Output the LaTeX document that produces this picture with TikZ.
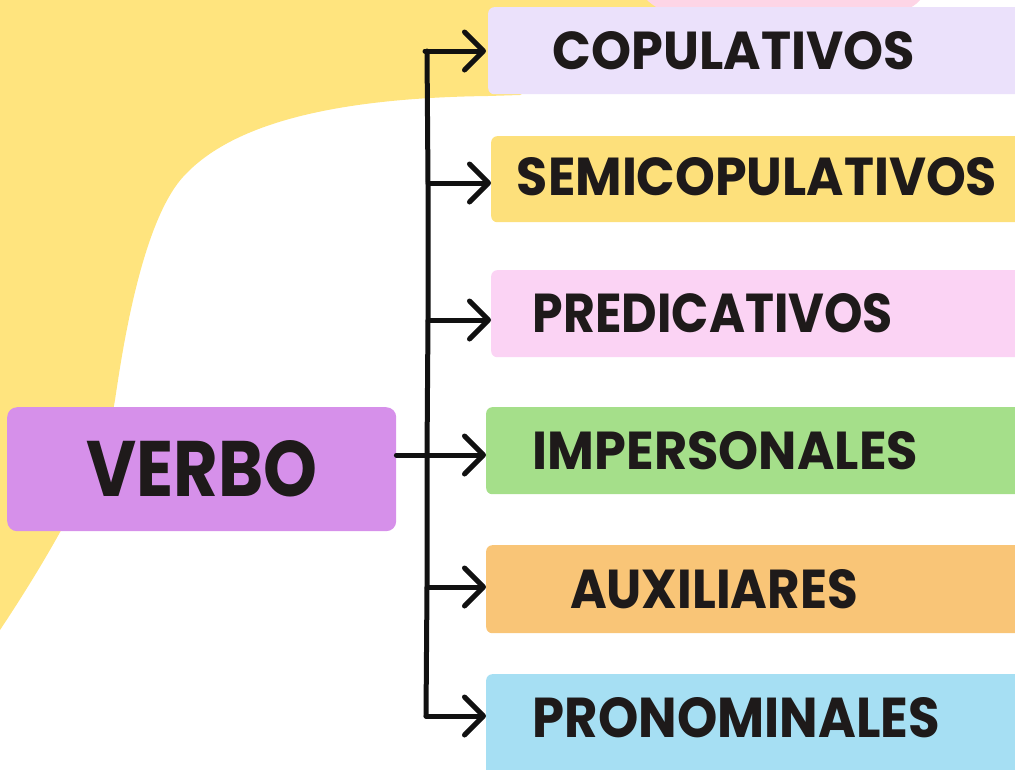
\documentclass[tikz,border=0pt]{standalone}
\usepackage{fontspec}
\setmainfont{Poppins}
\usetikzlibrary{arrows.meta}
\definecolor{bgyellow}{HTML}{FFE47E}
\definecolor{blobpink}{HTML}{FDD5E6}
\definecolor{lav}{HTML}{EBE1FB}
\definecolor{semiy}{HTML}{FDE07B}
\definecolor{predp}{HTML}{FBD3F4}
\definecolor{impg}{HTML}{A5DF8A}
\definecolor{auxo}{HTML}{F9C577}
\definecolor{pronb}{HTML}{A6DFF3}
\definecolor{verbop}{HTML}{D690EA}
\definecolor{ink}{HTML}{111111}
\definecolor{txt}{HTML}{1E1A1A}
\begin{document}
\begin{tikzpicture}[x=1pt,y=-1pt,
  box/.style={rectangle, rounded corners=6pt, inner sep=0pt, anchor=north west, minimum width=545pt},
  lbl/.style={inner sep=0pt, text=txt, font=\bfseries},
  conn/.style={draw=ink, line width=5pt, line cap=round, line join=round},
  arr/.style={conn, -{Straight Barb[length=19pt,width=38pt,line width=5pt,round]}}]
\useasboundingbox (0,0) rectangle (1015,769);
\clip (0,0) rectangle (1015,769);
% background blobs
\fill[bgyellow] (0,0) -- (655,0) -- (660,20) -- (520,95) -- (488,96)
  .. controls (330,98) and (230,125) .. (183,177)
  .. controls (140,224.6) and (121,360) .. (115,400)
  .. controls (107.5,450) and (60,540) .. (0,630)
  -- cycle;
\fill[blobpink] (645,-2) .. controls (655,8) and (662,12) .. (685,12) -- (885,12) .. controls (908,12) and (915,6) .. (922,-2) -- cycle;
% boxes
\node[box, fill=lav,   minimum height=87pt] (cop)  at (488,7) {};
\node[box, fill=semiy, minimum height=86pt] (semi) at (491,136) {};
\node[box, fill=predp, minimum height=87pt] (pred) at (491,270) {};
\node[box, fill=impg,  minimum height=87pt] (imp)  at (486,407) {};
\node[box, fill=auxo,  minimum height=88pt] (aux)  at (486,545) {};
\node[box, fill=pronb, minimum height=110pt] (pron) at (486,674) {};
\node[box, fill=verbop, rounded corners=10pt, minimum width=389pt, minimum height=124pt] (verbo) at (7,407) {};
% labels
\node[lbl] (copt)  at (734,51)  {\resizebox{362pt}{38pt}{COPULATIVOS}};
\node[lbl] (semit) at (757,177) {\resizebox{480pt}{38pt}{SEMICOPULATIVOS}};
\node[lbl] (predt) at (713,313) {\resizebox{360pt}{39pt}{PREDICATIVOS}};
\node[lbl] (impt)  at (725.5,451) {\resizebox{385pt}{38pt}{IMPERSONALES}};
\node[lbl] (auxt)  at (714,589) {\resizebox{288pt}{39pt}{AUXILIARES}};
\node[lbl] (pront) at (736.5,718) {\resizebox{407pt}{40pt}{PRONOMINALES}};
\node[lbl] (verbot) at (202,469) {\resizebox{231pt}{56pt}{VERBO}};
% spine
\coordinate (s1) at (427,51);
\coordinate (s2) at (428,183);
\coordinate (s3) at (428,320);
\coordinate (s4) at (427,455);
\coordinate (s5) at (427,587);
\coordinate (s6) at (426,716);
\draw[conn] (s1) -- (s2) -- (s3) -- (s4) -- (s5) -- (s6);
% arrows
\draw[arr] ([xshift=-2pt]s1) -- ([xshift=-2pt]cop.west |- s1);
\draw[arr] (s2) -- (semi.west |- s2);
\draw[arr] (s3) -- (pred.west |- s3);
\draw[arr] (verbo.east |- s4) -- (imp.west |- s4);
\draw[arr] (s5) -- (aux.west |- s5);
\draw[arr] (s6) -- (pron.west |- s6);
\end{tikzpicture}
\end{document}
